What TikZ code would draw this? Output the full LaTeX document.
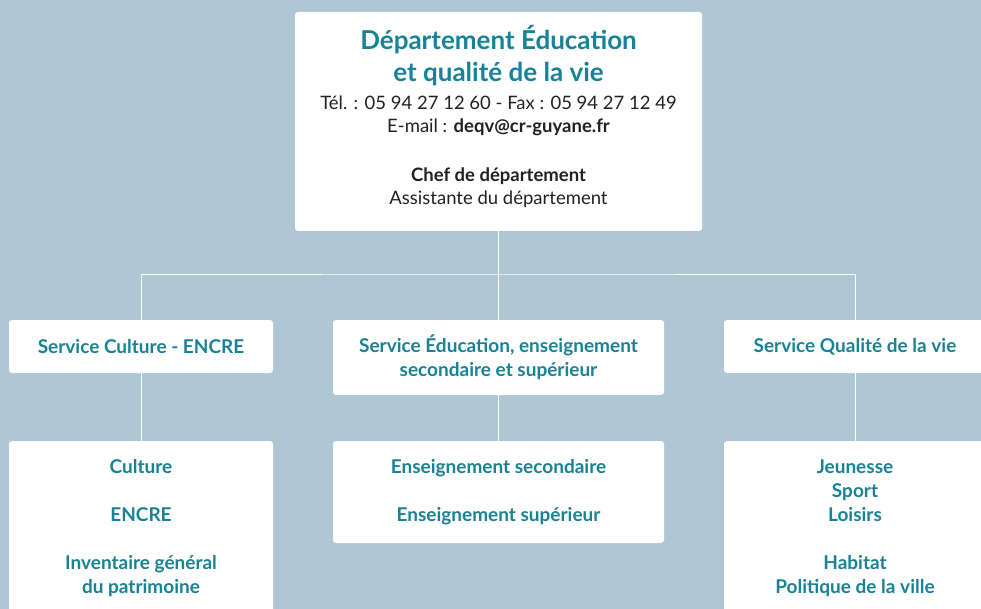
\documentclass[tikz,border=0pt]{standalone}
\usepackage{fontspec}
\setmainfont{Lato}
\usepackage{tikz}

\definecolor{fond}{RGB}{175,199,211}
\definecolor{teal}{RGB}{24,130,150}
\definecolor{encre}{RGB}{34,34,34}

\begin{document}
\begin{tikzpicture}[x=1pt,y=-1pt,
    every node/.style={draw=none,fill=white,rounded corners=3pt,inner sep=0pt,align=center},
    service/.style={text=teal,font=\fontsize{19}{24}\selectfont\bfseries},
    lien/.style={draw=white,line width=0.8pt}]
    \fill[fond] (0,0) rectangle (981,609);
    \useasboundingbox (0,0) rectangle (981,609);
    \clip (0,0) rectangle (981,609);

    \node (dep) at (498.5,121.5) [minimum width=407pt,minimum height=219pt,font=\fontsize{18.5}{23}\selectfont,text=encre]
        {{\fontsize{26}{31}\selectfont\bfseries\color{teal}Département Éducation}\\[7pt]
         {\fontsize{26}{31}\selectfont\bfseries\color{teal}et qualité de la vie}\\[5pt]
         Tél. : 05 94 27 12 60 - Fax : 05 94 27 12 49\\
         E-mail : \textbf{deqv@cr-guyane.fr}\\[26pt]
         \textbf{Chef de département}\\
         Assistante du département\\[-10pt]\mbox{}};

    \node[service] (culture) at (141,346.5) [minimum width=264pt,minimum height=53pt] {Service Culture - ENCRE};
    \node[service] (educ) at (498.5,357.5) [minimum width=331pt,minimum height=75pt] {Service Éducation, enseignement\\secondaire et supérieur};
    \node[service] (qualite) at (855,346.5) [minimum width=262pt,minimum height=53pt] {Service Qualité de la vie};

    \node[service] (poles1) at (141,528) [minimum width=264pt,minimum height=174pt]
        {Culture\\[24pt]ENCRE\\[24pt]Inventaire général\\du patrimoine};
    \node[service] (poles2) at (498.5,492) [minimum width=331pt,minimum height=102pt]
        {Enseignement secondaire\\[24pt]Enseignement supérieur};
    \node[service] (poles3) at (855,528) [minimum width=262pt,minimum height=174pt]
        {Jeunesse\\Sport\\Loisirs\\[24pt]Habitat\\Politique de la ville};

    \coordinate (barre) at (498.5,274);
    \draw[lien] (dep.south) -- (barre);
    \draw[lien] (culture.north) |- (barre) -| (qualite.north);
    \draw[lien] (barre) -- (educ.north);
    \draw[lien] (culture.south) -- (poles1.north);
    \draw[lien] (educ.south) -- (poles2.north);
    \draw[lien] (qualite.south) -- (poles3.north);
\end{tikzpicture}
\end{document}
